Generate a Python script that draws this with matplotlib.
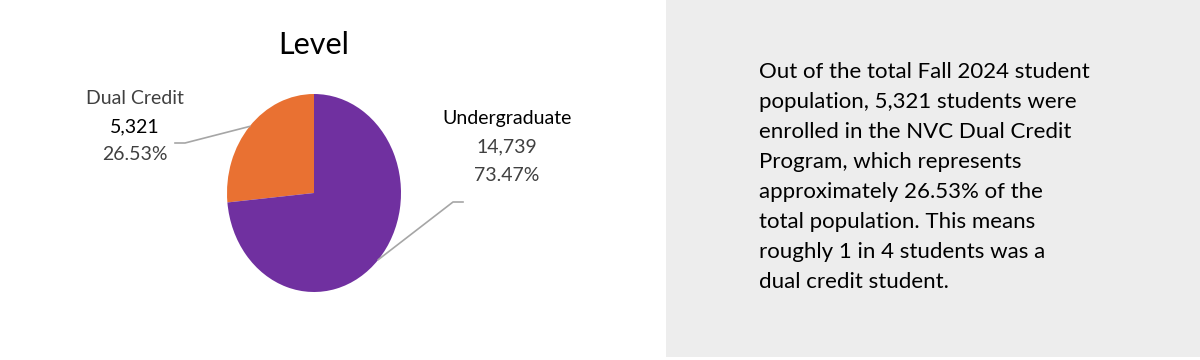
import numpy as np
import matplotlib
matplotlib.use("Agg")
import matplotlib.pyplot as plt
from matplotlib.patches import Rectangle

# donnees
levels = ["Dual Credit", "Undergraduate"]
counts = [5321, 14739]
pcts = ["26.53%", "73.47%"]
colors = ["#E97132", "#7030A0"]
title = "Level"
summary = ["Out of the total Fall 2024 student",
           "population, 5,321 students were",
           "enrolled in the NVC Dual Credit",
           "Program, which represents",
           "approximately 26.53% of the",
           "total population. This means",
           "roughly 1 in 4 students was a",
           "dual credit student."]

W, H = 1200, 360
fig = plt.figure(figsize=(W / 100, H / 100), dpi=100)
fig.patch.set_facecolor("white")

def fx(px):
    return px / W

def fy(py):
    return 1 - py / H

# panneau gris a droite
fig.patches.append(Rectangle((fx(666), fy(357)), fx(1200) - fx(666), fy(0) - fy(357),
                             transform=fig.transFigure, facecolor="#EDEDED",
                             edgecolor="none", zorder=0))

# camembert (legerement ovale comme l'original)
cx, cy, rx, ry = 314, 193, 87, 99
ax = fig.add_axes([fx(cx - rx), fy(cy + ry), 2 * rx / W, 2 * ry / H])
wedges, _ = ax.pie(counts, colors=colors, startangle=90, counterclock=True,
                   radius=1, wedgeprops=dict(linewidth=0))
ax.set_xlim(-1, 1)
ax.set_ylim(-1, 1)
ax.set_aspect("auto")
ax.axis("off")

fig.text(fx(314), fy(45), title, ha="center", va="center", fontsize=22,
         family="Lato", color="black")

# etiquettes + traits de rappel
lab_pos = [(135, 99), (507, 119)]
elbow = [((175, 143), (185, 143)), ((463, 202), (453, 202))]
for i, w in enumerate(wedges):
    x0, y0 = lab_pos[i]
    fig.text(fx(x0), fy(y0), levels[i], ha="center", va="center", fontsize=14,
             family="Lato", color="#404040" if i == 0 else "black")
    fig.text(fx(x0), fy(y0 + 28), f"{counts[i]:,}", ha="center", va="center",
             fontsize=14, family="Lato", color="black" if i == 0 else "#404040")
    fig.text(fx(x0), fy(y0 + 56), pcts[i], ha="center", va="center", fontsize=14,
             family="Lato", color="#404040")
    ang = np.deg2rad((w.theta1 + w.theta2) / 2)
    pts = [elbow[i][0], elbow[i][1]]
    xs = [(p[0] - cx) / rx for p in pts] + [np.cos(ang)]
    ys = [(cy - p[1]) / ry for p in pts] + [np.sin(ang)]
    ax.plot(xs, ys, color="#A6A6A6", lw=1.2, clip_on=False)

# texte de synthese, une ligne a la fois
for k, line in enumerate(summary):
    fig.text(fx(759), fy(78 + 30 * k), line, ha="left", va="baseline",
             fontsize=16, family="Lato", color="black")

fig.savefig("out.png", dpi=100)
